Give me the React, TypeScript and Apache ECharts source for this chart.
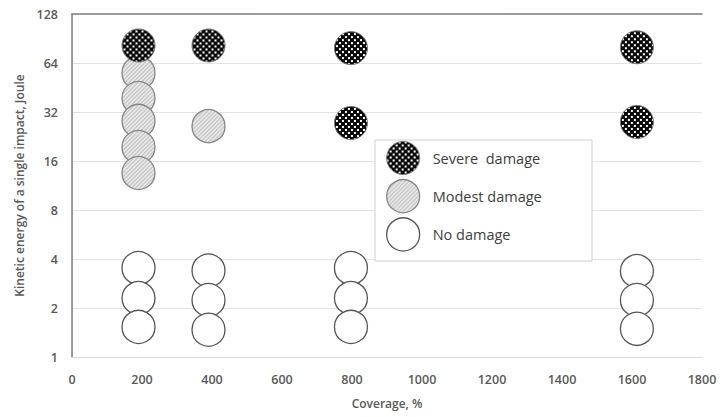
import React, { useEffect, useRef } from "react";
import * as echarts from "echarts";

const xTicks = [0, 200, 400, 600, 800, 1000, 1200, 1400, 1600, 1800];
const yTicks = [1, 2, 4, 8, 16, 32, 64, 128];

const severeLabel = "Severe  damage";
const modestLabel = "Modest damage";
const noneLabel = "No damage";

const severeData: [number, number][] = [
  [190, 82], [390, 82], [797, 79], [797, 27.4], [1614, 80], [1614, 27.8],
];
const modestData: [number, number][] = [
  [190, 55.6], [190, 39], [190, 28.2], [190, 19.5], [190, 13.5], [390, 26.2],
];
const noneData: [number, number][] = [
  [190, 3.52], [190, 2.3], [190, 1.53],
  [390, 3.4], [390, 2.24], [390, 1.47],
  [797, 3.52], [797, 2.3], [797, 1.53],
  [1614, 3.37], [1614, 2.24], [1614, 1.49],
];

const labelColor = "#595959";
const font = "'Open Sans', 'Liberation Sans', sans-serif";
const SYM = 33;

function checkerPattern() {
  const c = document.createElement("canvas");
  c.width = 6;
  c.height = 6;
  const g = c.getContext("2d")!;
  g.fillStyle = "#0a0a0a";
  g.fillRect(0, 0, 6, 6);
  g.fillStyle = "#fff";
  g.fillRect(0, 0, 2, 2);
  g.fillRect(3, 3, 2, 2);
  return c;
}

function hatchPattern() {
  const c = document.createElement("canvas");
  c.width = 4;
  c.height = 4;
  const g = c.getContext("2d")!;
  g.fillStyle = "#e6e6e6";
  g.fillRect(0, 0, 4, 4);
  g.fillStyle = "#b4b4b4";
  for (let i = 0; i < 4; i++) g.fillRect(i, 3 - i, 1, 1);
  return c;
}

export default function App() {
  const ref = useRef<HTMLDivElement>(null);
  useEffect(() => {
    if (!ref.current) return;
    const chart = echarts.init(ref.current, undefined, { renderer: "svg" });
    const checker = checkerPattern();
    const hatch = hatchPattern();
    const s = 2 / SYM;
    const severeFill = { image: checker, repeat: "repeat", scaleX: s, scaleY: s };
    const modestFill = { image: hatch, repeat: "repeat", scaleX: s, scaleY: s };
    const severeLegendFill = { image: checker, repeat: "repeat" };
    const modestLegendFill = { image: hatch, repeat: "repeat" };
    chart.setOption({
      animation: false,
      backgroundColor: "#fff",
      textStyle: { fontFamily: font },
      grid: { left: 72, right: 18, top: 14, bottom: 60, containLabel: false },
      xAxis: [
        {
          type: "value",
          min: 0,
          max: 1800,
          interval: 200,
          name: "Coverage, %",
          nameLocation: "middle",
          nameGap: 40,
          nameTextStyle: { color: labelColor, fontSize: 12, fontWeight: 600, fontFamily: font },
          axisLine: { show: true, lineStyle: { color: "#d9d9d9" } },
          axisTick: { show: false },
          splitLine: { show: false },
          axisLabel: {
            color: labelColor, fontSize: 12.5, fontWeight: 600, margin: 16, fontFamily: font,
            formatter: (v: number) => (xTicks.includes(v) ? String(v) : ""),
          },
        },
        {
          type: "value",
          position: "top",
          min: 0,
          max: 1800,
          interval: 200,
          axisLine: { show: true, lineStyle: { color: "#808080", width: 1.5 } },
          axisTick: { show: false },
          axisLabel: { show: false },
          splitLine: { show: false },
        },
      ],
      yAxis: [
        {
          type: "log",
          logBase: 2,
          min: 1,
          max: 128,
          name: "Kinetic energy of a single impact, Joule",
          nameLocation: "middle",
          nameGap: 46,
          nameTextStyle: { color: labelColor, fontSize: 12, fontWeight: 600, fontFamily: font },
          axisLine: { show: true, lineStyle: { color: "#d9d9d9" } },
          axisTick: { show: false },
          splitLine: { show: true, lineStyle: { color: "#e3e3e3" } },
          axisLabel: {
            color: labelColor, fontSize: 12.5, fontWeight: 600, margin: 14, fontFamily: font,
            formatter: (v: number) => {
              const r = Math.round(v);
              return yTicks.includes(r) ? String(r) : "";
            },
          },
        },
        {
          type: "log",
          logBase: 2,
          min: 1,
          max: 128,
          position: "right",
          axisLine: { show: true, lineStyle: { color: "#808080", width: 1.5 } },
          axisTick: { show: false },
          axisLabel: { show: false },
          splitLine: { show: false },
        },
      ],
      graphic: [
        {
          type: "rect",
          z: 1,
          shape: { x: 375, y: 140, width: 217, height: 121 },
          style: { fill: "#fff", stroke: "#d0d0d0", lineWidth: 1 },
        },
      ],
      legend: {
        z: 10,
        orient: "vertical",
        left: 375,
        top: 140,
        padding: [1, 10, 10, 11],
        itemWidth: SYM,
        itemHeight: SYM,
        itemGap: 4,
        icon: "circle",
        data: [
          { name: severeLabel, itemStyle: { color: severeLegendFill, borderColor: "#777", borderWidth: 1 } },
          { name: modestLabel, itemStyle: { color: modestLegendFill, borderColor: "#858585", borderWidth: 1.3 } },
          { name: noneLabel, itemStyle: { color: "#fff", borderColor: "#555", borderWidth: 1.3 } },
        ],
        textStyle: { color: "#404040", fontSize: 14.5, fontFamily: font, padding: [0, 0, 0, 8] },
      },
      series: [
        {
          name: noneLabel,
          type: "scatter",
          symbol: "circle",
          symbolSize: SYM,
          data: noneData,
          itemStyle: { color: "#fff", borderColor: "#555", borderWidth: 1.3, opacity: 1 },
          z: 3,
        },
        {
          name: modestLabel,
          type: "scatter",
          symbol: "circle",
          symbolSize: SYM,
          data: modestData,
          itemStyle: { color: modestFill, borderColor: "#858585", borderWidth: 1.3, opacity: 1 },
          z: 4,
        },
        {
          name: severeLabel,
          type: "scatter",
          symbol: "circle",
          symbolSize: SYM,
          data: severeData,
          itemStyle: { color: severeFill, borderColor: "#777", borderWidth: 1, opacity: 1 },
          z: 5,
        },
      ],
    });
    return () => chart.dispose();
  }, []);
  return (
    <div
      ref={ref}
      style={{ position: "fixed", left: 0, top: 0, width: 720, height: 417 }}
    />
  );
}
